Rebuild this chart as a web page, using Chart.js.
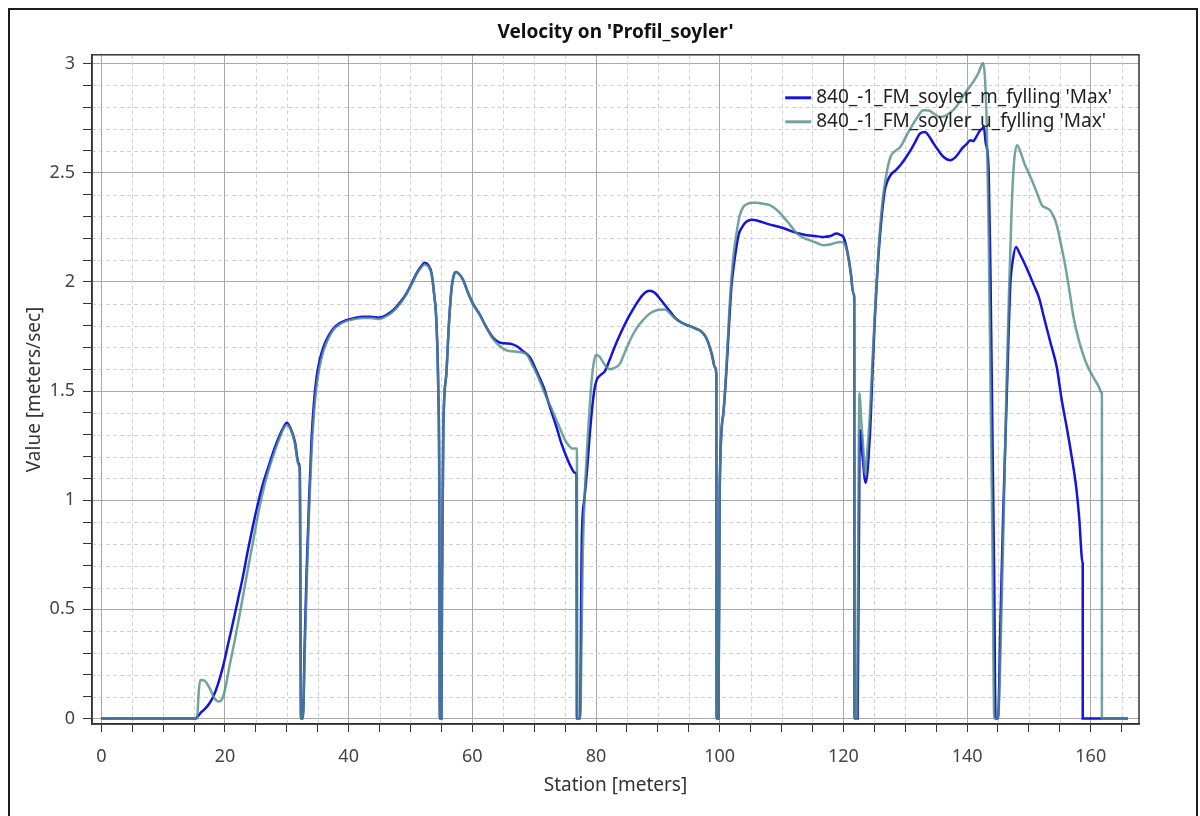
<!DOCTYPE html>
<html>
<head>
<meta charset="utf-8">
<script src="https://cdn.jsdelivr.net/npm/chart.js@4.4.1/dist/chart.umd.min.js"></script>
<style>
    body { margin: 0; background: #ffffff; }
    .frame { position: absolute; left: 8px; top: 8px; width: 1186px; height: 900px; border: 2px solid #1e1e1e; }
    #chart { position: absolute; left: 0; top: 0; }
</style>
</head>
<body>
<div class="frame"></div>
<canvas id="chart" width="1200" height="816"></canvas>
<script>
// Serie "m_fylling" (azul)
const stationM = [0, 15.2, 15.6, 16.2, 16.8, 17.5, 18.1, 18.9, 19.7, 20.5, 21.3, 22.1, 22.9, 23.7, 24.5, 25.3, 26.1, 27.0, 27.8, 28.6, 29.4, 30.0, 30.6, 31.3, 31.9, 32.1, 32.3, 32.6,
    32.9, 33.2, 33.6, 34.0, 34.4, 34.8, 35.3, 35.9, 36.7, 37.5, 38.5, 39.6, 41.0, 42.3, 43.5, 45.0, 46.2, 47.2, 48.3, 49.4, 50.3, 51.0, 51.7, 52.3, 52.9, 53.4, 53.8, 54.2, 54.5, 54.65, 54.75, 55.0,
    55.1, 55.3, 55.8, 56.2, 56.6, 57.0, 57.4, 57.9, 58.5, 59.3, 60.1, 61.2, 62.3, 63.2, 63.9, 64.7, 65.5, 66.4, 67.2, 68.3, 69.3, 70.4, 71.5, 72.5, 73.6, 74.4, 75.2, 75.9, 76.6, 76.85, 76.9, 77.4,
    77.7, 78.1, 78.5, 78.9, 79.3, 79.7, 80.1, 80.8, 81.4, 82.1, 82.8, 83.9, 85.0, 86.1, 87.1, 87.9, 88.7, 89.5, 90.3, 91.1, 92.0, 92.8, 93.6, 94.4, 95.2, 96.2, 97.1, 97.8, 98.4, 98.8, 99.2, 99.45, 99.5, 99.8,
    100.0, 100.6, 101.1, 101.5, 101.9, 102.3, 102.7, 103.1, 103.6, 104.3, 105.2, 106.4, 107.6, 108.7, 109.8, 110.9, 111.9, 113.0, 114.1, 115.4, 116.8, 117.9, 118.9, 119.5, 120.0, 120.4, 120.8, 121.2, 121.6, 121.75, 121.8, 122.3,
    122.6, 122.75, 123.1, 123.6, 124.3, 124.7, 125.1, 125.5, 125.9, 126.3, 126.7, 127.6, 128.4, 129.2, 130.0, 130.8, 131.6, 132.4, 133.2, 133.9, 134.6, 135.4, 136.2, 137.3, 138.0, 138.6, 139.3, 140.0, 140.5, 141.0, 141.5, 142.1, 142.4, 142.7,
    143.0, 143.5, 143.8, 144.1, 144.4, 144.6, 145.0, 145.4, 145.8, 146.4, 146.7, 147.0, 147.4, 147.9, 148.5, 149.2, 150.0, 150.8, 151.6, 152.5, 153.5, 154.5, 155.3, 156.2, 157.0, 157.6, 158.1, 158.7, 158.7, 166.0];
const velocityM = [0, 0, 0.01, 0.03, 0.045, 0.07, 0.10, 0.16, 0.24, 0.34, 0.44, 0.545, 0.65, 0.77, 0.88, 0.98, 1.07, 1.15, 1.22, 1.28, 1.33, 1.355, 1.33, 1.27, 1.17, 1.14, 0, 0,
    0.35, 0.67, 1.0, 1.28, 1.45, 1.56, 1.64, 1.70, 1.75, 1.785, 1.81, 1.825, 1.835, 1.84, 1.84, 1.837, 1.85, 1.87, 1.905, 1.95, 2.0, 2.04, 2.07, 2.087, 2.075, 2.04, 1.95, 1.81, 1.5, 1.1, 0, 0,
    0.6, 1.31, 1.58, 1.80, 1.96, 2.03, 2.045, 2.035, 2.01, 1.95, 1.90, 1.85, 1.79, 1.75, 1.73, 1.72, 1.718, 1.715, 1.705, 1.68, 1.655, 1.59, 1.52, 1.43, 1.336, 1.26, 1.20, 1.155, 1.126, 1.12, 0, 0,
    0.82, 1.0, 1.12, 1.27, 1.40, 1.50, 1.55, 1.575, 1.59, 1.635, 1.687, 1.76, 1.825, 1.88, 1.924, 1.95, 1.959, 1.95, 1.924, 1.895, 1.863, 1.835, 1.817, 1.805, 1.797, 1.785, 1.771, 1.745, 1.70, 1.66, 1.61, 1.58, 0, 0,
    1.05, 1.40, 1.60, 1.80, 1.98, 2.08, 2.16, 2.22, 2.25, 2.275, 2.285, 2.278, 2.267, 2.258, 2.25, 2.24, 2.229, 2.22, 2.214, 2.21, 2.206, 2.21, 2.221, 2.215, 2.206, 2.17, 2.114, 2.04, 1.947, 1.93, 0, 0,
    1.2, 1.32, 1.2, 1.08, 1.306, 1.58, 1.84, 2.05, 2.206, 2.33, 2.42, 2.488, 2.51, 2.534, 2.565, 2.60, 2.64, 2.68, 2.686, 2.665, 2.633, 2.60, 2.572, 2.557, 2.568, 2.588, 2.615, 2.633, 2.649, 2.645, 2.665, 2.694, 2.70, 2.71,
    2.64, 2.5, 2.0, 1.3, 0.6, 0, 0, 0.45, 0.9, 1.46, 1.75, 1.99, 2.10, 2.16, 2.13, 2.09, 2.04, 1.985, 1.93, 1.83, 1.72, 1.61, 1.46, 1.32, 1.184, 1.07, 0.93, 0.71, 0, 0];

// Serie "u_fylling" (verde azulado)
const stationU = [0, 15.5, 15.75, 16.0, 16.7, 17.5, 18.3, 19.0, 19.7, 20.2, 20.8, 21.6, 22.4, 23.2, 24.0, 24.8, 25.6, 26.4, 27.2, 28.0, 28.9, 29.5, 30.0, 30.6, 31.3, 31.9, 32.1, 32.3, 32.6,
    32.9, 33.2, 33.6, 34.0, 34.4, 34.8, 35.3, 35.9, 36.7, 37.5, 38.5, 39.6, 41.0, 42.3, 43.5, 45.0, 46.2, 47.2, 48.3, 49.4, 50.3, 51.0, 51.7, 52.3, 52.9, 53.4, 53.8, 54.2, 54.5, 54.65, 54.75, 55.0,
    55.1, 55.3, 55.8, 56.2, 56.6, 57.0, 57.4, 57.9, 58.5, 59.3, 60.1, 61.2, 62.3, 63.2, 63.9, 64.7, 65.5, 66.4, 67.2, 68.0, 68.7, 69.5, 70.4, 71.2, 72.0, 72.8, 73.6, 74.3, 75.0, 75.6, 76.1, 76.9, 77.0, 77.4,
    77.9, 78.3, 78.8, 79.3, 79.7, 80.0, 80.6, 81.2, 81.7, 82.3, 82.8, 83.4, 83.9, 84.7, 85.5, 86.5, 87.6, 88.7, 89.8, 91.1, 92.5, 93.3, 94.1, 95.2, 96.2, 97.1, 97.8, 98.4, 98.8, 99.2, 99.45, 99.5, 99.8,
    100.0, 100.6, 101.1, 101.5, 101.9, 102.3, 102.7, 103.2, 103.8, 104.5, 105.2, 106.0, 107.0, 108.1, 109.2, 110.3, 111.4, 112.5, 113.5, 114.6, 115.7, 116.8, 117.6, 118.4, 119.5, 120.0, 120.3, 120.8, 121.2, 121.6, 121.75, 121.8, 122.2,
    122.5, 122.6, 122.9, 123.2, 123.5, 123.8, 124.3, 124.7, 125.1, 125.5, 125.9, 126.3, 126.7, 127.6, 128.4, 129.2, 130.2, 131.3, 132.1, 132.9, 133.8, 134.6, 135.6, 136.5, 137.5, 138.2, 138.9, 139.8, 140.8, 141.8, 142.3, 142.6,
    142.9, 143.2, 143.5, 143.8, 144.1, 144.4, 145.0, 145.4, 145.9, 146.4, 146.7, 147.2, 147.6, 148.1, 148.7, 149.3, 150.0, 150.7, 151.4, 152.1, 152.7, 153.4, 154.0, 154.5, 155.2, 155.9, 156.6, 157.2, 158.1, 159.1, 159.9, 160.7, 161.3, 161.8, 161.8, 166.0];
const velocityU = [0, 0, 0.12, 0.177, 0.174, 0.14, 0.093, 0.078, 0.10, 0.16, 0.25, 0.36, 0.48, 0.605, 0.73, 0.85, 0.97, 1.07, 1.15, 1.22, 1.29, 1.33, 1.345, 1.325, 1.26, 1.16, 1.13, 0, 0,
    0.3, 0.6, 0.95, 1.22, 1.40, 1.52, 1.61, 1.68, 1.74, 1.78, 1.805, 1.82, 1.83, 1.835, 1.835, 1.83, 1.845, 1.865, 1.90, 1.945, 1.995, 2.035, 2.065, 2.08, 2.07, 2.035, 1.95, 1.81, 1.5, 1.1, 0, 0,
    0.6, 1.31, 1.58, 1.80, 1.96, 2.03, 2.045, 2.035, 2.01, 1.95, 1.90, 1.85, 1.79, 1.745, 1.72, 1.70, 1.687, 1.682, 1.68, 1.677, 1.672, 1.63, 1.58, 1.525, 1.47, 1.42, 1.367, 1.32, 1.275, 1.25, 1.237, 1.237, 0, 0,
    0.8, 1.1, 1.35, 1.55, 1.64, 1.665, 1.657, 1.63, 1.61, 1.60, 1.604, 1.612, 1.627, 1.68, 1.733, 1.785, 1.825, 1.855, 1.87, 1.874, 1.84, 1.822, 1.81, 1.797, 1.785, 1.771, 1.745, 1.70, 1.66, 1.61, 1.58, 0, 0,
    1.05, 1.40, 1.62, 1.84, 2.02, 2.14, 2.22, 2.30, 2.343, 2.357, 2.362, 2.362, 2.358, 2.351, 2.33, 2.298, 2.26, 2.221, 2.203, 2.19, 2.178, 2.168, 2.17, 2.176, 2.183, 2.18, 2.168, 2.11, 2.04, 1.947, 1.93, 0, 0,
    1.3, 1.49, 1.36, 1.245, 1.12, 1.2, 1.40, 1.64, 1.855, 2.06, 2.236, 2.36, 2.45, 2.572, 2.60, 2.618, 2.67, 2.725, 2.76, 2.786, 2.785, 2.771, 2.755, 2.76, 2.78, 2.80, 2.83, 2.87, 2.908, 2.954, 2.99, 3.002,
    2.93, 2.7, 2.2, 1.5, 0.8, 0, 0, 0.3, 0.9, 1.55, 1.87, 2.33, 2.55, 2.626, 2.59, 2.54, 2.496, 2.45, 2.40, 2.351, 2.34, 2.328, 2.30, 2.26, 2.17, 2.07, 1.95, 1.84, 1.73, 1.64, 1.59, 1.55, 1.52, 1.49, 0, 0];

const seriesLabels = ["840_-1_FM_soyler_m_fylling 'Max'", "840_-1_FM_soyler_u_fylling 'Max'"];
const chartTitle = "Velocity on 'Profil_soyler'";
const xAxisTitle = 'Station [meters]';
const yAxisTitle = 'Value [meters/sec]';

const FONT = "'Noto Sans', 'Open Sans', sans-serif";
const BLUE = '#1414dc';
const TEAL = 'rgba(80,140,135,0.8)';

function toPoints(xs, ys) {
    return xs.map((x, i) => ({ x: x, y: ys[i] }));
}

// Rejilla secundaria discontinua
const minorGrid = {
    id: 'minorGrid',
    beforeDatasetsDraw(chart) {
        const { ctx, chartArea, scales } = chart;
        ctx.save();
        ctx.strokeStyle = '#d2d2d2';
        ctx.lineWidth = 1;
        ctx.setLineDash([4, 3]);
        scales.x.ticks.forEach(t => {
            if (t.value % 20 === 0) return;
            const px = Math.round(scales.x.getPixelForValue(t.value)) + 0.5;
            ctx.beginPath();
            ctx.moveTo(px, chartArea.top);
            ctx.lineTo(px, chartArea.bottom);
            ctx.stroke();
        });
        scales.y.ticks.forEach(t => {
            if (Math.round(t.value * 10) % 5 === 0) return;
            const py = Math.round(scales.y.getPixelForValue(t.value)) + 0.5;
            ctx.beginPath();
            ctx.moveTo(chartArea.left, py);
            ctx.lineTo(chartArea.right, py);
            ctx.stroke();
        });
        ctx.restore();
    }
};

// Marco del área de trazado y leyenda dentro del gráfico
const frameAndLegend = {
    id: 'frameAndLegend',
    afterDraw(chart) {
        const { ctx, chartArea } = chart;
        ctx.save();
        ctx.strokeStyle = '#333';
        ctx.lineWidth = 1.5;
        ctx.strokeRect(chartArea.left, chartArea.top, chartArea.right - chartArea.left, chartArea.bottom - chartArea.top);

        ctx.font = '19px ' + FONT;
        ctx.textBaseline = 'middle';
        ctx.textAlign = 'left';
        const widths = chart.data.datasets.map(d => ctx.measureText(d.label).width);
        const textX = chartArea.right - 27 - Math.max(...widths);
        chart.data.datasets.forEach((d, i) => {
            const y = chartArea.top + 43 + i * 24;
            ctx.strokeStyle = d.borderColor;
            ctx.lineWidth = 3;
            ctx.beginPath();
            ctx.moveTo(textX - 31, y);
            ctx.lineTo(textX - 5, y);
            ctx.stroke();
            ctx.fillStyle = '#222';
            ctx.fillText(d.label, textX, y);
        });
        ctx.restore();
    }
};

new Chart(document.getElementById('chart'), {
    type: 'line',
    data: {
        datasets: [{
            label: seriesLabels[0],
            data: toPoints(stationM, velocityM),
            borderColor: BLUE,
            borderWidth: 2.5,
            pointRadius: 0,
            cubicInterpolationMode: 'monotone',
            order: 1
        }, {
            label: seriesLabels[1],
            data: toPoints(stationU, velocityU),
            borderColor: TEAL,
            borderWidth: 2.5,
            pointRadius: 0,
            cubicInterpolationMode: 'monotone',
            order: 0
        }]
    },
    options: {
        responsive: false,
        animation: false,
        layout: { padding: { left: 0, right: 61, top: 0, bottom: 0 } },
        plugins: {
            legend: { display: false },
            tooltip: { enabled: false },
            title: {
                display: true,
                text: chartTitle,
                fullSize: false,
                color: '#111',
                font: { family: FONT, size: 19, weight: 'bold' },
                padding: { top: 21, bottom: 11 }
            }
        },
        scales: {
            x: {
                type: 'linear',
                min: -1.5,
                max: 167.8,
                afterFit: scale => { scale.height = 92; },
                ticks: {
                    stepSize: 5,
                    includeBounds: false,
                    autoSkip: false,
                    maxRotation: 0,
                    padding: 14,
                    color: '#444',
                    font: { family: FONT, size: 18 },
                    callback: v => (v % 20 === 0 ? String(v) : '')
                },
                grid: {
                    color: c => (c.tick && c.tick.value % 20 === 0 ? '#a8a8a8' : 'rgba(0,0,0,0)'),
                    tickColor: '#333',
                    tickLength: 8
                },
                border: { color: '#333', width: 1.5 },
                title: {
                    display: true,
                    text: xAxisTitle,
                    color: '#333',
                    font: { family: FONT, size: 19 },
                    padding: { top: 0, bottom: 19 }
                }
            },
            y: {
                min: -0.025,
                max: 3.04,
                afterFit: scale => { scale.width = 92; },
                ticks: {
                    stepSize: 0.1,
                    includeBounds: false,
                    autoSkip: false,
                    padding: 8,
                    color: '#444',
                    font: { family: FONT, size: 18 },
                    callback: v => {
                        const r = Math.round(v * 10);
                        return r % 5 === 0 ? String(r / 10) : '';
                    }
                },
                grid: {
                    color: c => (c.tick && Math.round(c.tick.value * 10) % 5 === 0 ? '#a8a8a8' : 'rgba(0,0,0,0)'),
                    tickColor: '#333',
                    tickLength: 9
                },
                border: { color: '#333', width: 1.5 },
                title: {
                    display: true,
                    text: yAxisTitle,
                    color: '#333',
                    font: { family: FONT, size: 19 },
                    padding: { top: 23, bottom: 0 }
                }
            }
        }
    },
    plugins: [minorGrid, frameAndLegend]
});
</script>
</body>
</html>
